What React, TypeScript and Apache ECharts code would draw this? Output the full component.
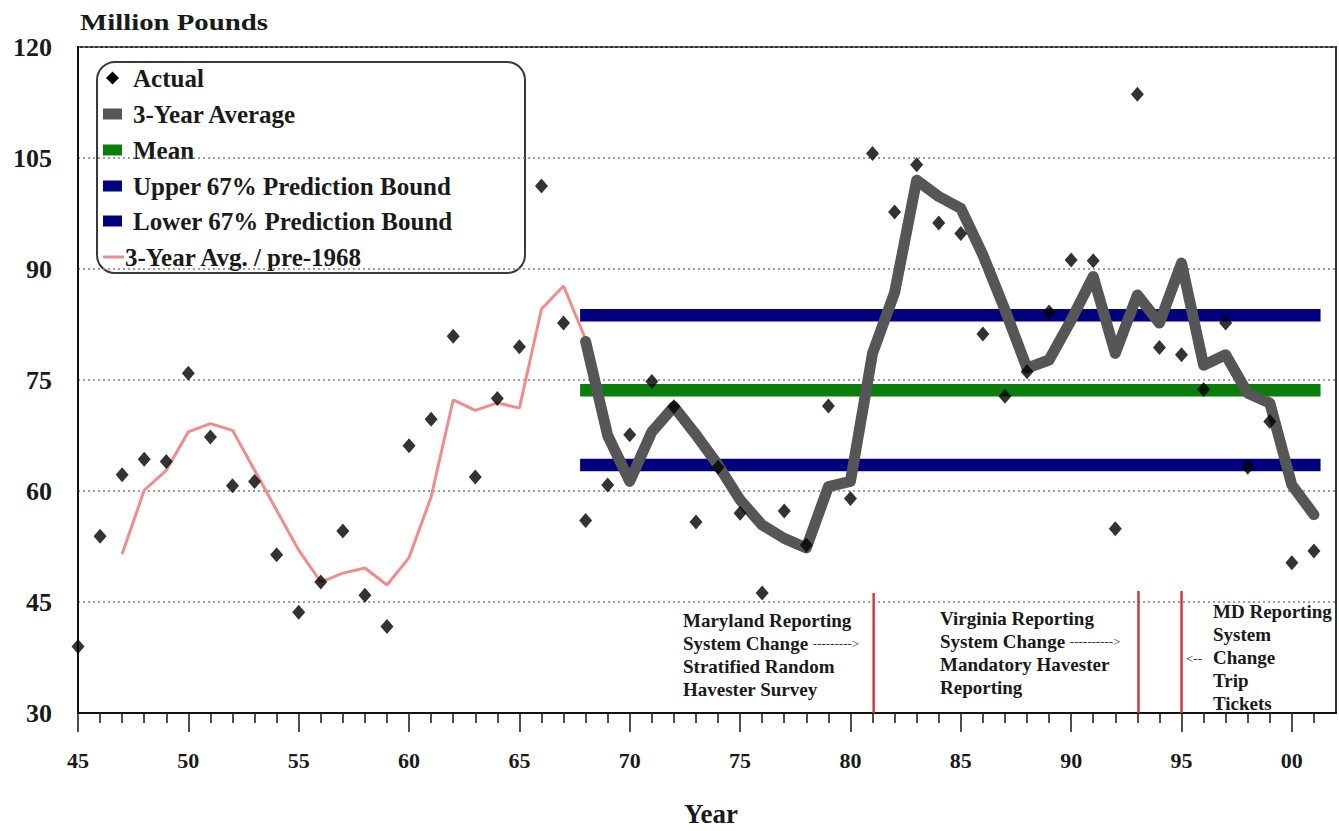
import React, { useEffect, useRef } from "react";
import * as echarts from "echarts";

// ---- data ----
const actualYears = [
  1945, 1946, 1947, 1948, 1949, 1950, 1951, 1952, 1953, 1954,
  1955, 1956, 1957, 1958, 1959, 1960, 1961, 1962, 1963, 1964,
  1965, 1966, 1967, 1968, 1969, 1970, 1971, 1972, 1973, 1974,
  1975, 1976, 1977, 1978, 1979, 1980, 1981, 1982, 1983, 1984,
  1985, 1986, 1987, 1988, 1989, 1990, 1991, 1992, 1993, 1994,
  1995, 1996, 1997, 1998, 1999, 2000, 2001,
];
const actualValues = [
  39.0, 53.9, 62.2, 64.3, 64.0, 75.9, 67.3, 60.7, 61.3, 51.4,
  43.6, 47.7, 54.6, 45.9, 41.7, 66.1, 69.7, 80.9, 61.9, 72.5,
  79.5, 101.2, 82.7, 56.0, 60.8, 67.6, 74.8, 71.4, 55.8, 63.2,
  57.0, 46.2, 57.3, 52.7, 71.5, 59.0, 105.6, 97.7, 104.1, 96.2,
  94.8, 81.2, 72.8, 76.1, 84.2, 91.2, 91.1, 54.9, 113.6, 79.4,
  78.4, 73.7, 82.7, 63.2, 69.4, 50.3, 51.9,
];

const preYears = [
  1947, 1948, 1949, 1950, 1951, 1952, 1953, 1954, 1955, 1956, 1957,
  1958, 1959, 1960, 1961, 1962, 1963, 1964, 1965, 1966, 1967, 1968,
];
const preAvgValues = [
  51.5, 60.1, 62.8, 68.0, 69.1, 68.2, 62.8, 57.4, 52.0, 47.7, 48.9,
  49.6, 47.3, 51.0, 59.2, 72.3, 70.9, 71.9, 71.2, 84.6, 87.7, 80.5,
];

const avgYears = [
  1968, 1969, 1970, 1971, 1972, 1973, 1974, 1975, 1976, 1977, 1978, 1979,
  1980, 1981, 1982, 1983, 1984, 1985, 1986, 1987, 1988, 1989, 1990, 1991,
  1992, 1993, 1994, 1995, 1996, 1997, 1998, 1999, 2000, 2001,
];
const avgValues = [
  80.2, 67.5, 61.3, 68.0, 71.4, 67.6, 63.5, 58.8, 55.4, 53.6, 52.3, 60.6,
  61.3, 78.6, 86.8, 102.0, 99.8, 98.2, 91.9, 84.5, 76.6, 77.7, 83.1, 89.0,
  78.6, 86.5, 82.7, 90.8, 77.0, 78.4, 73.2, 71.9, 60.8, 56.8,
];

const boundStart = 1967.75;
const boundEnd = 2001.3;
const meanValue = 73.6;
const upperBound = 83.75;
const lowerBound = 63.5;

const eventYears = [1981.05, 1993.05, 1995.0];
const eventTops = [46.2, 46.5, 46.5];

const xMajorTicks = [1945, 1950, 1955, 1960, 1965, 1970, 1975, 1980, 1985, 1990, 1995, 2000];
const yMin = 30;
const yMax = 120;
const yStep = 15;
const xMin = 1945;
const xMax = 2002;

const legendLabels = [
  "Actual",
  "3-Year Average",
  "Mean",
  "Upper 67% Prediction Bound",
  "Lower 67% Prediction Bound",
  "3-Year Avg. / pre-1968",
];

const SERIF = "'Liberation Serif', 'Times New Roman', Times, serif";

const C_GRAY = "#565656";
const C_GREEN = "#0a7d0a";
const C_BLUE = "#00007e";
const C_PINK = "#ef8c8c";
const C_RED = "#d03434";

export default function App() {
  const ref = useRef<HTMLDivElement>(null);

  useEffect(() => {
    document.body.style.margin = "0";
    if (!ref.current) return;
    const chart = echarts.init(ref.current, undefined, { renderer: "svg" });

    const minorTicks: number[] = [];
    for (let y = xMin + 1; y < xMax; y++) {
      if (!xMajorTicks.includes(y)) minorTicks.push(y);
    }

    const pair = (xs: number[], ys: number[]) => xs.map((x, i) => [x, ys[i]]);

    const eventSeries = eventYears.map((ey, i) => ({
      type: "line",
      data: [
        [ey, yMin],
        [ey, eventTops[i]],
      ],
      symbol: "none",
      lineStyle: { color: C_RED, width: 2.4 },
      z: 3,
      silent: true,
    }));

    const boundSeries = (name: string, v: number, color: string) => ({
      name,
      type: "line",
      data: [
        [boundStart, v],
        [boundEnd, v],
      ],
      symbol: "none",
      lineStyle: { color, width: 12.5, cap: "butt" },
      z: 2,
    });

    const legendRowY = [78, 114, 150, 186, 221, 257];
    const legendColors = [null, C_GRAY, C_GREEN, C_BLUE, C_BLUE, null];

    const legendChildren: any[] = [
      {
        type: "rect",
        shape: { x: 97, y: 62, width: 428, height: 211, r: 18 },
        style: { fill: "#fff", stroke: "#3a3a3a", lineWidth: 2 },
      },
      {
        type: "polygon",
        shape: {
          points: [
            [112.5, 71.5],
            [119, 78],
            [112.5, 84.5],
            [106, 78],
          ],
        },
        style: { fill: "#000" },
      },
    ];
    legendColors.forEach((c, i) => {
      if (c) {
        legendChildren.push({
          type: "rect",
          shape: { x: 103, y: legendRowY[i] - 5.5, width: 19, height: 11 },
          style: { fill: c },
        });
      }
    });
    legendChildren.push({
      type: "line",
      shape: { x1: 103, y1: 257, x2: 124, y2: 257 },
      style: { stroke: C_PINK, lineWidth: 3 },
    });
    legendLabels.forEach((t, i) => {
      legendChildren.push({
        type: "text",
        x: i === 5 ? 125 : 133,
        y: legendRowY[i],
        style: {
          text: t,
          fill: "#1a1a1a",
          font: `bold 25px ${SERIF}`,
          textVerticalAlign: "middle",
          textAlign: "left",
        },
      });
    });

    const annoStyle = (text: string) => ({
      text,
      fill: "#1a1a1a",
      fontFamily: SERIF,
      fontWeight: "bold",
      fontSize: 19,
      lineHeight: 23,
      textVerticalAlign: "top",
      rich: {
        a: {
          fontFamily: SERIF,
          fontWeight: "normal",
          fontSize: 13,
          lineHeight: 23,
          fill: "#333",
        },
      },
    });

    const option: any = {
      animation: false,
      backgroundColor: "#fff",
      grid: {
        left: 78,
        top: 47,
        right: 3,
        bottom: 118,
        show: true,
        borderColor: "#333",
        borderWidth: 2,
        backgroundColor: "transparent",
      },
      xAxis: [
        {
          type: "value",
          min: xMin,
          max: xMax,
          interval: 5,
          position: "bottom",
          axisLine: { show: true, onZero: false, lineStyle: { color: "#111", width: 2 } },
          axisTick: {
            show: true,
            customValues: xMajorTicks,
            length: 19,
            lineStyle: { color: "#222", width: 1.6 },
          },
          axisLabel: {
            showMaxLabel: false,
            formatter: (v: number) =>
              xMajorTicks.includes(v) ? String(v % 100).padStart(2, "0") : "",
            fontFamily: SERIF,
            fontWeight: "bold",
            fontSize: 22,
            color: "#1a1a1a",
            margin: 36,
          },
          splitLine: { show: false },
        },
        {
          type: "value",
          min: xMin,
          max: xMax,
          position: "bottom",
          axisLine: { show: false, onZero: false },
          axisTick: {
            show: true,
            customValues: minorTicks,
            length: 10,
            lineStyle: { color: "#222", width: 1.6 },
          },
          axisLabel: { show: false },
          splitLine: { show: false },
        },
      ],
      yAxis: {
        type: "value",
        min: yMin,
        max: yMax,
        interval: yStep,
        axisLine: { show: true, onZero: false, lineStyle: { color: "#111", width: 2 } },
        axisTick: { show: false },
        axisLabel: {
          fontFamily: SERIF,
          fontWeight: "bold",
          fontSize: 26,
          color: "#1a1a1a",
          margin: 26,
        },
        splitLine: {
          show: true,
          lineStyle: { color: "#808080", width: 1.6, type: [2, 3] },
        },
      },
      series: [
        boundSeries("Mean", meanValue, C_GREEN),
        boundSeries("Upper 67% Prediction Bound", upperBound, C_BLUE),
        boundSeries("Lower 67% Prediction Bound", lowerBound, C_BLUE),
        ...eventSeries,
        {
          name: "3-Year Avg. / pre-1968",
          type: "line",
          data: pair(preYears, preAvgValues),
          symbol: "none",
          lineStyle: { color: C_PINK, width: 3 },
          z: 3,
        },
        {
          name: "3-Year Average",
          type: "line",
          data: pair(avgYears, avgValues),
          symbol: "none",
          lineStyle: { color: C_GRAY, width: 11, cap: "round", join: "round" },
          z: 4,
        },
        {
          name: "Actual",
          type: "scatter",
          data: pair(actualYears, actualValues),
          symbol: "diamond",
          symbolSize: [13, 15],
          itemStyle: { color: "#000" },
          z: 5,
        },
      ],
      graphic: [
        {
          type: "text",
          x: 80,
          y: 22,
          scaleX: 1.2,
          style: {
            text: "Million Pounds",
            fill: "#1a1a1a",
            font: `bold 24px ${SERIF}`,
            textVerticalAlign: "middle",
          },
        },
        {
          type: "text",
          x: 711,
          y: 814,
          style: {
            text: "Year",
            fill: "#1a1a1a",
            font: `bold 27px ${SERIF}`,
            textAlign: "center",
            textVerticalAlign: "middle",
          },
        },
        {
          type: "text",
          x: 683,
          y: 609,
          z: 10,
          style: annoStyle(
            "Maryland Reporting\nSystem Change {a|--------->}\nStratified Random\nHavester Survey"
          ),
        },
        {
          type: "text",
          x: 940,
          y: 607,
          z: 10,
          style: annoStyle(
            "Virginia Reporting\nSystem Change {a|---------->}\nMandatory Havester\nReporting"
          ),
        },
        {
          type: "text",
          x: 1213,
          y: 600,
          z: 10,
          style: annoStyle("MD Reporting\nSystem\nChange\nTrip\nTickets"),
        },
        {
          type: "text",
          x: 1186,
          y: 658,
          z: 10,
          style: {
            text: "<--",
            fill: "#333",
            font: `13px ${SERIF}`,
            textVerticalAlign: "middle",
          },
        },
        {
          type: "group",
          z: 20,
          children: legendChildren,
        },
      ],
    };

    chart.setOption(option);
    return () => chart.dispose();
  }, []);

  return <div ref={ref} style={{ width: 1339, height: 831 }} />;
}
